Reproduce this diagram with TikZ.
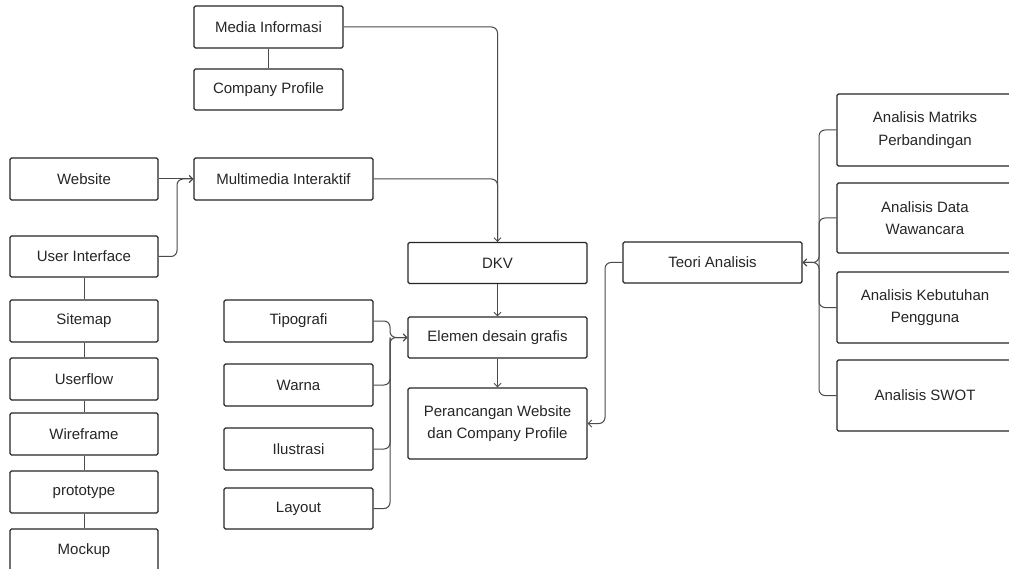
\documentclass[tikz,border=0pt]{standalone}
\usepackage{fontspec}
\setmainfont{Liberation Sans}
\usetikzlibrary{arrows.meta}
\definecolor{ink}{HTML}{262626}
\definecolor{wire}{HTML}{4A4A4A}
\begin{document}
\begin{tikzpicture}[x=1pt,y=-1pt,
  box/.style={draw=ink, line width=1.1pt, rounded corners=1.5pt, text=ink,
    inner sep=0pt, align=center,
    font=\fontsize{15}{22.5}\selectfont},
  link/.style={draw=wire, line width=1pt, rounded corners=6pt},
  arr/.style={link, -{Straight Barb[length=3.5pt,width=7pt]}}]
\useasboundingbox (0,0) rectangle (1009,569);
\clip (0,0) rectangle (1009,569);
\fill[white] (0,0) rectangle (1009,569);

% upper branch
\node[box, minimum width=149, minimum height=42] (media) at (268.5,27) {Media Informasi};
\node[box, minimum width=149, minimum height=41] (company) at (268.5,89.5) {Company Profile};
\node[box, minimum width=148, minimum height=42] (website) at (84,179) {Website};
\node[box, minimum width=148, minimum height=41] (ui) at (84,256.5) {User Interface};
\node[box, minimum width=179, minimum height=42] (multi) at (283.5,179) {Multimedia Interaktif};

% left column of stages
\node[box, minimum width=148, minimum height=42] (sitemap) at (84,321) {Sitemap};
\node[box, minimum width=148, minimum height=42] (userflow) at (84,379) {Userflow};
\node[box, minimum width=148, minimum height=42] (wireframe) at (84,434) {Wireframe};
\node[box, minimum width=148, minimum height=42] (prototype) at (84,492) {prototype};
\node[box, minimum width=148, minimum height=44] (mockup) at (84,551) {Mockup};

% design elements
\node[box, minimum width=149, minimum height=42] (tipo) at (298.5,321) {Tipografi};
\node[box, minimum width=149, minimum height=42] (warna) at (298.5,385) {Warna};
\node[box, minimum width=149, minimum height=42] (ilus) at (298.5,449) {Ilustrasi};
\node[box, minimum width=149, minimum height=41] (layout) at (298.5,508.5) {Layout};

% centre column
\node[box, minimum width=179, minimum height=41] (dkv) at (497.5,263) {DKV};
\node[box, minimum width=179, minimum height=41] (elemen) at (497.5,337.5) {Elemen desain grafis};
\node[box, minimum width=179, minimum height=71] (peran) at (497.5,423.5) {Perancangan Website\\dan Company Profile};

% analysis
\node[box, minimum width=179, minimum height=41] (teori) at (712.5,262.5) {Teori Analisis};
\node[box, minimum width=176, minimum height=72] (matriks) at (925,130) {Analisis Matriks\\Perbandingan};
\node[box, minimum width=176, minimum height=70] (data) at (925,218) {Analisis Data\\Wawancara};
\node[box, minimum width=176, minimum height=71] (butuh) at (925,307.5) {Analisis Kebutuhan\\Pengguna};
\node[box, minimum width=176, minimum height=71] (swot) at (925,395.5) {Analisis SWOT};

% junction points
\coordinate (uj) at (177,256.5);
\coordinate (ej) at (390,337.5);
\coordinate (tj) at (605,262.5);
\coordinate (aj) at (819,262.5);

% connectors
\draw[link] (media) -- (company);
\draw[arr] (media.east) -| (dkv.north);
\draw[link] (multi.east) -| (dkv.north);
\draw[arr] (website) -- (multi);
\draw[arr] (ui.east) -- (uj) |- (multi.west);
\draw[link] (ui) -- (sitemap);
\draw[link] (sitemap) -- (userflow);
\draw[link] (userflow) -- (wireframe);
\draw[link] (wireframe) -- (prototype);
\draw[link] (prototype) -- (mockup);

\draw[arr] (dkv) -- (elemen);
\draw[arr] (elemen) -- (peran);

\draw[arr] (tipo.east) -| (ej) -- (elemen.west);
\draw[link] (warna.east) -| (ej);
\draw[link] (ilus.east) -| (ej);
\draw[arr] (layout.east) -| (ej) -- (elemen.west);

\draw[arr] (teori.west) -- (tj) |- (peran.east);

\draw[arr] (matriks.west) -| (aj) -- (teori.east);
\draw[link] (data.west) -| (aj);
\draw[link] (butuh.west) -| (aj);
\draw[arr] (swot.west) -| (aj) -- (teori.east);
\end{tikzpicture}
\end{document}
